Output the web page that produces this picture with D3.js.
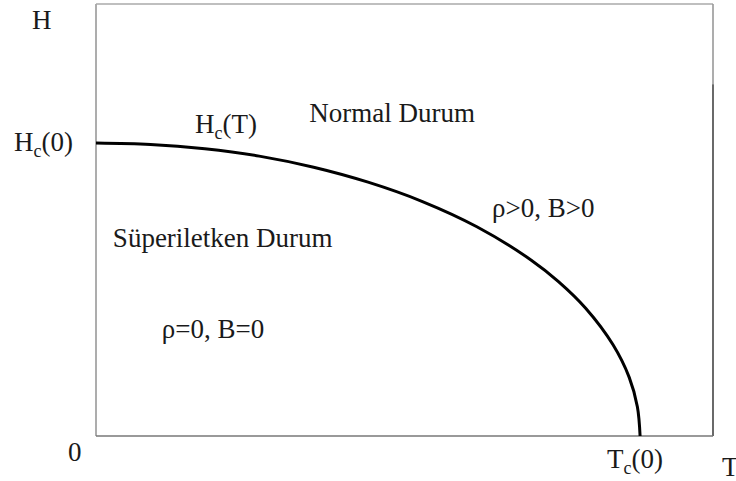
<!DOCTYPE html>
<html>
<head>
<meta charset="utf-8">
<script src="https://cdn.jsdelivr.net/npm/d3@7"></script>
<style>
  html, body { margin: 0; padding: 0; background: #fff; }
  svg { display: block; }
  svg text, svg tspan { font-family: "Liberation Serif", serif; }
</style>
</head>
<body>
<svg id="chart" width="736" height="481"></svg>
<script>
// Critical field curve Hc(T), T in units of Tc(0), H in units of Hc(0)
const tValues = [0, 0.10, 0.20, 0.30, 0.40, 0.50, 0.60, 0.70, 0.80, 0.85, 0.90, 0.95, 0.98, 0.995, 1.0];
const hValues = [1.0, 0.995, 0.98, 0.955, 0.917, 0.866, 0.80, 0.714, 0.60, 0.527, 0.436, 0.312, 0.20, 0.10, 0];

// Axis extents (frame of the diagram)
const tDomain = [0, 1.134];
const hDomain = [0, 1.474];

// Region labels
const regionLabels = [
  { text: "Normal Durum", t: 0.392, h: 1.072 },
  { text: "Süperiletken Durum", t: 0.031, h: 0.645 },
  { text: "ρ=0, B=0", t: 0.121, h: 0.334 },
  { text: "ρ>0, B>0", t: 0.728, h: 0.747 }
];

const serif = "\"Liberation Serif\"";

const svg = d3.select("#chart");
const x = d3.scaleLinear().domain(tDomain).range([96, 713]);
const y = d3.scaleLinear().domain(hDomain).range([436, 4]);

// Frame: left and bottom axes, top and right closing lines
const frame = svg.append("g").attr("fill", "none").attr("stroke-width", 1.6);
frame.append("line").attr("x1", x(0)).attr("x2", x(0)).attr("y1", y(hDomain[1])).attr("y2", y(0)).attr("stroke", "#999");
frame.append("line").attr("x1", x(0)).attr("x2", x(tDomain[1])).attr("y1", y(hDomain[1])).attr("y2", y(hDomain[1])).attr("stroke", "#aaa");
frame.append("line").attr("x1", x(tDomain[1])).attr("x2", x(tDomain[1])).attr("y1", y(hDomain[1])).attr("y2", y(1.2)).attr("stroke", "#999");
frame.append("line").attr("x1", x(tDomain[1])).attr("x2", x(tDomain[1])).attr("y1", y(1.2)).attr("y2", y(0)).attr("stroke", "#444");
frame.append("line").attr("x1", x(0)).attr("x2", x(tDomain[1])).attr("y1", y(0)).attr("y2", y(0)).attr("stroke", "#777");

// Phase boundary
const pts = tValues.map((t, i) => [t, hValues[i]]);
svg.append("path")
  .datum(pts)
  .attr("fill", "none")
  .attr("stroke", "#000")
  .attr("stroke-width", 3)
  .attr("d", d3.line().x(d => x(d[0])).y(d => y(d[1])).curve(d3.curveCatmullRom.alpha(0.5)));

const fs = 27, sub = 18;

// Plain text label
function label(str, px, py) {
  return svg.append("text")
    .attr("x", px).attr("y", py)
    .attr("font-size", fs)
    .style("font-family", serif)
    .attr("fill", "#1a1a1a")
    .text(str);
}

// Label with a subscript: main letter, subscript, remainder
function subLabel(main, s, rest, px, py) {
  const t = label(main, px, py);
  t.append("tspan").attr("font-size", sub).style("font-family", serif).attr("dy", 6).text(s);
  t.append("tspan").attr("font-size", fs).style("font-family", serif).attr("dy", -6).text(rest);
  return t;
}

// Axis titles and tick labels
label("H", 32, 29);
label("T", 722, 476);
label("0", 68, 461);
subLabel("H", "c", "(0)", 14, 151);
subLabel("T", "c", "(0)", 607, 468);
subLabel("H", "c", "(T)", 195, 133);

regionLabels.forEach(d => label(d.text, x(d.t), y(d.h)));
</script>
</body>
</html>
